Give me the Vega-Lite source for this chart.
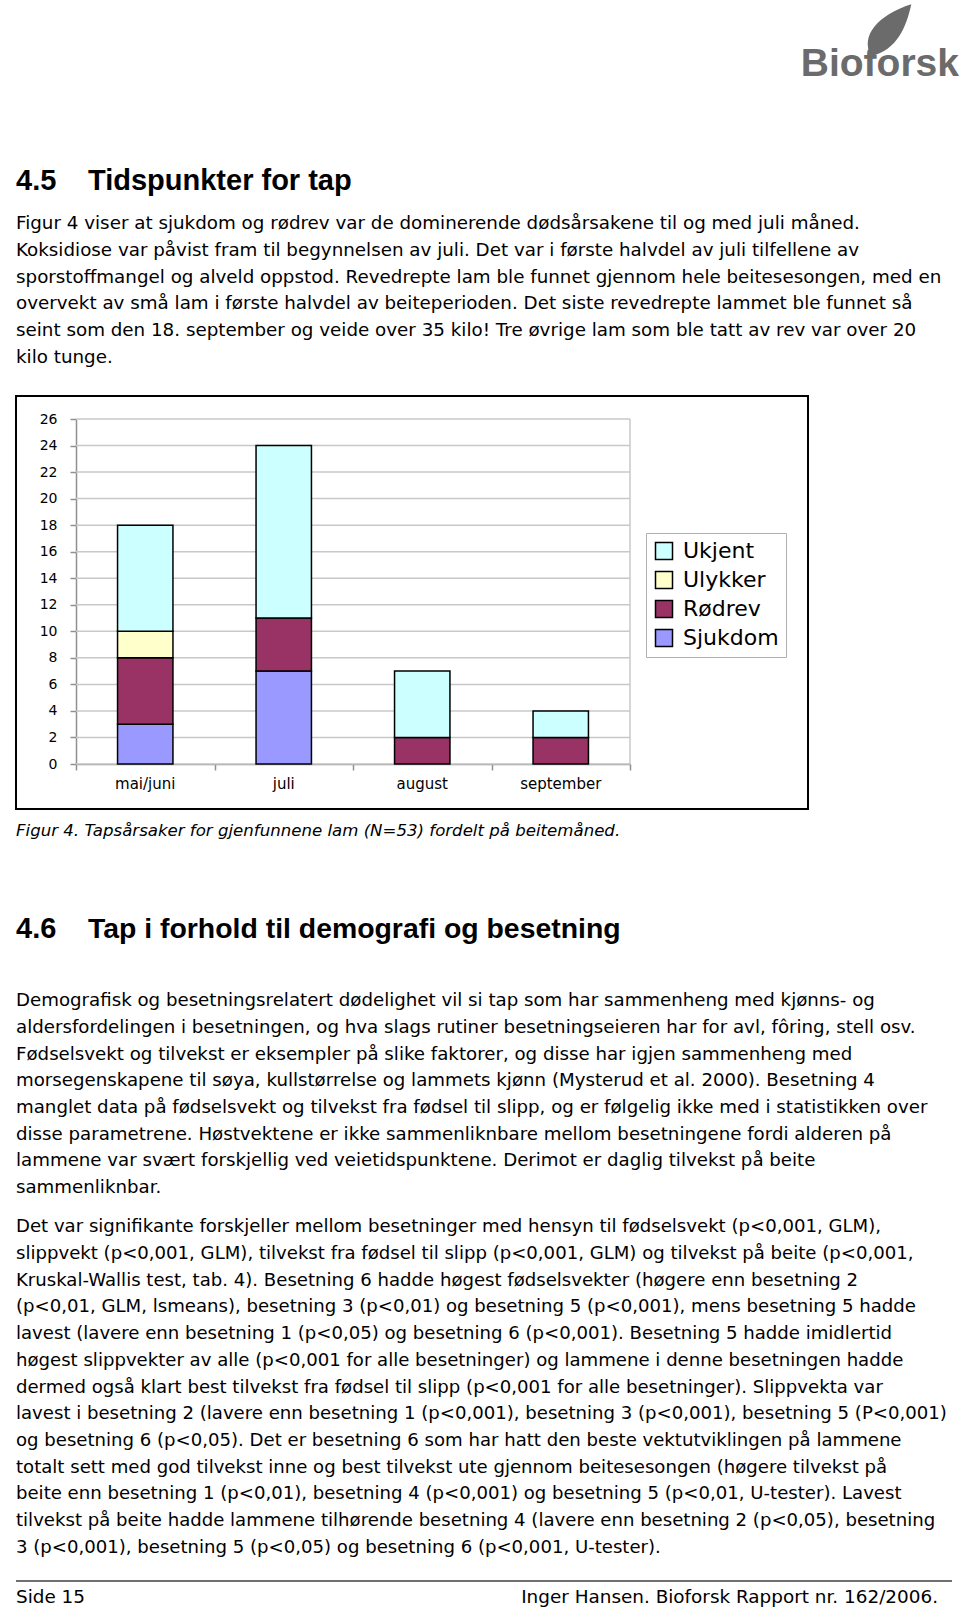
{
  "$schema": "https://vega.github.io/schema/vega-lite/v6.json",
  "padding": {"left": 15, "top": 0, "right": 0, "bottom": 0},
  "background": "white",
  "bounds": "flush",
  "spacing": 0,
  "config": {"view": {"stroke": null}},
  "datasets": {
    "p1": [
      {"line": 1, "text": "Figur 4 viser at sjukdom og rødrev var de dominerende dødsårsakene til og med juli måned."},
      {"line": 2, "text": "Koksidiose var påvist fram til begynnelsen av juli. Det var i første halvdel av juli tilfellene av"},
      {"line": 3, "text": "sporstoffmangel og alveld oppstod. Revedrepte lam ble funnet gjennom hele beitesesongen, med en"},
      {"line": 4, "text": "overvekt av små lam i første halvdel av beiteperioden. Det siste revedrepte lammet ble funnet så"},
      {"line": 5, "text": "seint som den 18. september og veide over 35 kilo! Tre øvrige lam som ble tatt av rev var over 20"},
      {"line": 6, "text": "kilo tunge."}
    ],
    "p2": [
      {"line": 1, "text": "Demografisk og besetningsrelatert dødelighet vil si tap som har sammenheng med kjønns- og"},
      {"line": 2, "text": "aldersfordelingen i besetningen, og hva slags rutiner besetningseieren har for avl, fôring, stell osv."},
      {"line": 3, "text": "Fødselsvekt og tilvekst er eksempler på slike faktorer, og disse har igjen sammenheng med"},
      {"line": 4, "text": "morsegenskapene til søya, kullstørrelse og lammets kjønn (Mysterud et al. 2000). Besetning 4"},
      {"line": 5, "text": "manglet data på fødselsvekt og tilvekst fra fødsel til slipp, og er følgelig ikke med i statistikken over"},
      {"line": 6, "text": "disse parametrene. Høstvektene er ikke sammenliknbare mellom besetningene fordi alderen på"},
      {"line": 7, "text": "lammene var svært forskjellig ved veietidspunktene. Derimot er daglig tilvekst på beite"},
      {"line": 8, "text": "sammenliknbar."}
    ],
    "p3": [
      {"line": 1, "text": "Det var signifikante forskjeller mellom besetninger med hensyn til fødselsvekt (p<0,001, GLM),"},
      {"line": 2, "text": "slippvekt (p<0,001, GLM), tilvekst fra fødsel til slipp (p<0,001, GLM) og tilvekst på beite (p<0,001,"},
      {"line": 3, "text": "Kruskal-Wallis test, tab. 4). Besetning 6 hadde høgest fødselsvekter (høgere enn besetning 2"},
      {"line": 4, "text": "(p<0,01, GLM, lsmeans), besetning 3 (p<0,01) og besetning 5 (p<0,001), mens besetning 5 hadde"},
      {"line": 5, "text": "lavest (lavere enn besetning 1 (p<0,05) og besetning 6 (p<0,001). Besetning 5 hadde imidlertid"},
      {"line": 6, "text": "høgest slippvekter av alle (p<0,001 for alle besetninger) og lammene i denne besetningen hadde"},
      {"line": 7, "text": "dermed også klart best tilvekst fra fødsel til slipp (p<0,001 for alle besetninger). Slippvekta var"},
      {"line": 8, "text": "lavest i besetning 2 (lavere enn besetning 1 (p<0,001), besetning 3 (p<0,001), besetning 5 (P<0,001)"},
      {"line": 9, "text": "og besetning 6 (p<0,05). Det er besetning 6 som har hatt den beste vektutviklingen på lammene"},
      {"line": 10, "text": "totalt sett med god tilvekst inne og best tilvekst ute gjennom beitesesongen (høgere tilvekst på"},
      {"line": 11, "text": "beite enn besetning 1 (p<0,01), besetning 4 (p<0,001) og besetning 5 (p<0,01, U-tester). Lavest"},
      {"line": 12, "text": "tilvekst på beite hadde lammene tilhørende besetning 4 (lavere enn besetning 2 (p<0,05), besetning"},
      {"line": 13, "text": "3 (p<0,001), besetning 5 (p<0,05) og besetning 6 (p<0,001, U-tester)."}
    ],
    "bars": [
      {"month": "mai/juni", "cause": "Sjukdom", "k": 1, "n": 3},
      {"month": "mai/juni", "cause": "Rødrev", "k": 2, "n": 5},
      {"month": "mai/juni", "cause": "Ulykker", "k": 3, "n": 2},
      {"month": "mai/juni", "cause": "Ukjent", "k": 4, "n": 8},
      {"month": "juli", "cause": "Sjukdom", "k": 1, "n": 7},
      {"month": "juli", "cause": "Rødrev", "k": 2, "n": 4},
      {"month": "juli", "cause": "Ukjent", "k": 4, "n": 13},
      {"month": "august", "cause": "Rødrev", "k": 2, "n": 2},
      {"month": "august", "cause": "Ukjent", "k": 4, "n": 5},
      {"month": "september", "cause": "Rødrev", "k": 2, "n": 2},
      {"month": "september", "cause": "Ukjent", "k": 4, "n": 2}
    ],
    "grid": [
      {"g": 0}, {"g": 2}, {"g": 4}, {"g": 6}, {"g": 8}, {"g": 10}, {"g": 12},
      {"g": 14}, {"g": 16}, {"g": 18}, {"g": 20}, {"g": 22}, {"g": 24}, {"g": 26}
    ]
  },
  "vconcat": [
    {
      "width": 945,
      "height": 396,
      "layer": [
        {
          "data": {"values": [{"t": "Bioforsk"}]},
          "mark": {"type": "text", "align": "right", "baseline": "alphabetic", "font": "Liberation Sans", "fontWeight": "bold", "fontSize": 39, "color": "#6b6b6b"},
          "encoding": {"text": {"field": "t"}, "x": {"value": 943}, "y": {"value": 76}}
        },
        {
          "data": {"values": [{"t": "leaf"}]},
          "mark": {"type": "point", "filled": true, "color": "#6b6b6b", "opacity": 1, "size": 2840, "shape": "M -0.55 0.95 C -1 0.2 -0.3 -0.6 0.95 -1 C 0.75 -0.1 0.4 0.7 -0.55 0.95 Z"},
          "encoding": {"x": {"value": 870}, "y": {"value": 31}}
        },
        {
          "data": {"values": [{"num": "4.5", "title": "Tidspunkter for tap"}]},
          "layer": [
            {
              "mark": {"type": "text", "align": "left", "baseline": "middle", "font": "Liberation Sans", "fontWeight": "bold", "fontSize": 29, "color": "black"},
              "encoding": {"text": {"field": "num"}, "x": {"value": 0}, "y": {"value": 181}}
            },
            {
              "mark": {"type": "text", "align": "left", "baseline": "middle", "font": "Liberation Sans", "fontWeight": "bold", "fontSize": 29, "color": "black"},
              "encoding": {"text": {"field": "title"}, "x": {"value": 72}, "y": {"value": 181}}
            }
          ]
        },
        {
          "data": {"name": "p1"},
          "mark": {"type": "text", "align": "left", "baseline": "middle", "font": "DejaVu Sans", "fontSize": 18.3, "color": "black"},
          "encoding": {
            "text": {"field": "text"},
            "x": {"value": 0},
            "y": {"field": "line", "type": "quantitative", "scale": {"domain": [1, 6], "range": [224.1, 357.7], "zero": false, "nice": false}, "axis": null}
          }
        }
      ]
    },
    {
      "width": 792,
      "height": 413,
      "view": {"stroke": "black", "strokeWidth": 2},
      "layer": [
        {
          "data": {"name": "grid"},
          "mark": {"type": "rule", "color": "#c8c8c8", "strokeWidth": 1.5},
          "encoding": {
            "y": {
              "field": "g", "type": "quantitative",
              "scale": {"domain": [0, 26], "range": [368, 23], "nice": false, "zero": true},
              "axis": {"orient": "left", "offset": -60, "values": [0, 2, 4, 6, 8, 10, 12, 14, 16, 18, 20, 22, 24, 26], "tickCount": 30, "labelOverlap": false, "title": null, "grid": false, "domainColor": "#909090", "domainWidth": 1.5, "tickColor": "#909090", "tickSize": 6, "tickWidth": 1.5, "labelFontSize": 14, "labelFont": "DejaVu Sans", "labelColor": "black", "labelPadding": 13}
            },
            "x": {
              "datum": 0, "type": "quantitative",
              "scale": {"domain": [0, 1], "range": [60, 614], "nice": false, "zero": false},
              "axis": {"orient": "bottom", "offset": -45, "values": [0, 0.25, 0.5, 0.75, 1], "tickCount": 10, "labels": false, "title": null, "grid": false, "domainColor": "#909090", "domainWidth": 1.5, "tickColor": "#909090", "tickSize": 6, "tickWidth": 1.5}
            },
            "x2": {"datum": 1}
          }
        },
        {
          "data": {"values": [{}]},
          "mark": {"type": "rule", "color": "#c8c8c8", "strokeWidth": 1.5},
          "encoding": {
            "x": {"datum": 1, "type": "quantitative", "scale": {"domain": [0, 1], "range": [60, 614], "nice": false, "zero": false}, "axis": null},
            "y": {"datum": 0, "type": "quantitative"},
            "y2": {"datum": 26}
          }
        },
        {
          "data": {"name": "bars"},
          "mark": {"type": "bar", "stroke": "black", "strokeWidth": 1.5},
          "encoding": {
            "x": {
              "field": "month", "type": "nominal",
              "sort": ["mai/juni", "juli", "august", "september"],
              "scale": {"range": [60, 614], "paddingInner": 0.6, "paddingOuter": 0.3},
              "axis": {"orient": "bottom", "offset": -45, "title": null, "domain": false, "ticks": false, "tickSize": 0, "labelAngle": 0, "labelFontSize": 15, "labelFont": "DejaVu Sans", "labelColor": "black", "labelPadding": 12.5}
            },
            "y": {
              "field": "n", "type": "quantitative", "stack": "zero",
              "scale": {"domain": [0, 26], "range": [368, 23], "nice": false, "zero": true},
              "axis": {"orient": "left", "offset": -60, "values": [0, 2, 4, 6, 8, 10, 12, 14, 16, 18, 20, 22, 24, 26], "tickCount": 30, "labelOverlap": false, "title": null, "grid": false, "domainColor": "#909090", "domainWidth": 1.5, "tickColor": "#909090", "tickSize": 6, "tickWidth": 1.5, "labelFontSize": 14, "labelFont": "DejaVu Sans", "labelColor": "black", "labelPadding": 13}
            },
            "color": {
              "field": "cause", "type": "nominal",
              "scale": {"domain": ["Ukjent", "Ulykker", "Rødrev", "Sjukdom"], "range": ["#CCFFFF", "#FFFFCC", "#993366", "#9999FF"]},
              "legend": {"title": null, "orient": "none", "legendX": 630, "legendY": 533, "direction": "vertical", "strokeColor": "#b0b0b0", "padding": 7, "fillColor": "white", "symbolType": "square", "symbolSize": 289, "symbolStrokeColor": "black", "symbolStrokeWidth": 1.5, "symbolOpacity": 1, "labelFont": "DejaVu Sans", "labelFontSize": 22, "labelColor": "black", "labelOffset": 8, "rowPadding": 5}
            },
            "order": {"field": "k", "type": "quantitative"}
          }
        }
      ],
      "resolve": {"scale": {"x": "independent"}, "axis": {"x": "independent"}}
    },
    {
      "width": 945,
      "height": 803,
      "layer": [
        {
          "data": {"values": [{"t": "Figur 4. Tapsårsaker for gjenfunnene lam (N=53) fordelt på beitemåned."}]},
          "mark": {"type": "text", "align": "left", "baseline": "middle", "font": "DejaVu Sans", "fontStyle": "italic", "fontSize": 16.6, "color": "black"},
          "encoding": {"text": {"field": "t"}, "x": {"value": 0}, "y": {"value": 21.5}}
        },
        {
          "data": {"values": [{"num": "4.6", "title": "Tap i forhold til demografi og besetning"}]},
          "layer": [
            {
              "mark": {"type": "text", "align": "left", "baseline": "middle", "font": "Liberation Sans", "fontWeight": "bold", "fontSize": 29, "color": "black"},
              "encoding": {"text": {"field": "num"}, "x": {"value": 0}, "y": {"value": 120}}
            },
            {
              "mark": {"type": "text", "align": "left", "baseline": "middle", "font": "Liberation Sans", "fontWeight": "bold", "fontSize": 28.4, "color": "black"},
              "encoding": {"text": {"field": "title"}, "x": {"value": 72}, "y": {"value": 120}}
            }
          ]
        },
        {
          "data": {"name": "p2"},
          "mark": {"type": "text", "align": "left", "baseline": "middle", "font": "DejaVu Sans", "fontSize": 18.2, "color": "black"},
          "encoding": {
            "text": {"field": "text"},
            "x": {"value": 0},
            "y": {"field": "line", "type": "quantitative", "scale": {"domain": [1, 8], "range": [192.1, 379.1], "zero": false, "nice": false}, "axis": null}
          }
        },
        {
          "data": {"name": "p3"},
          "mark": {"type": "text", "align": "left", "baseline": "middle", "font": "DejaVu Sans", "fontSize": 18.1, "color": "black"},
          "encoding": {
            "text": {"field": "text"},
            "x": {"value": 0},
            "y": {"field": "line", "type": "quantitative", "scale": {"domain": [1, 13], "range": [418.3, 738.9], "zero": false, "nice": false}, "axis": null}
          }
        },
        {
          "data": {"values": [{}]},
          "mark": {"type": "rule", "color": "#404040", "strokeWidth": 1.5},
          "encoding": {"x": {"value": 0}, "x2": {"value": 936}, "y": {"value": 772}}
        },
        {
          "data": {"values": [{"l": "Side 15", "r": "Inger Hansen. Bioforsk Rapport nr. 162/2006."}]},
          "layer": [
            {
              "mark": {"type": "text", "align": "left", "baseline": "middle", "font": "DejaVu Sans", "fontSize": 18.4, "color": "black"},
              "encoding": {"text": {"field": "l"}, "x": {"value": 0}, "y": {"value": 788}}
            },
            {
              "mark": {"type": "text", "align": "right", "baseline": "middle", "font": "DejaVu Sans", "fontSize": 18.4, "color": "black"},
              "encoding": {"text": {"field": "r"}, "x": {"value": 922}, "y": {"value": 788}}
            }
          ]
        }
      ],
      "resolve": {"scale": {"y": "independent"}}
    }
  ]
}
